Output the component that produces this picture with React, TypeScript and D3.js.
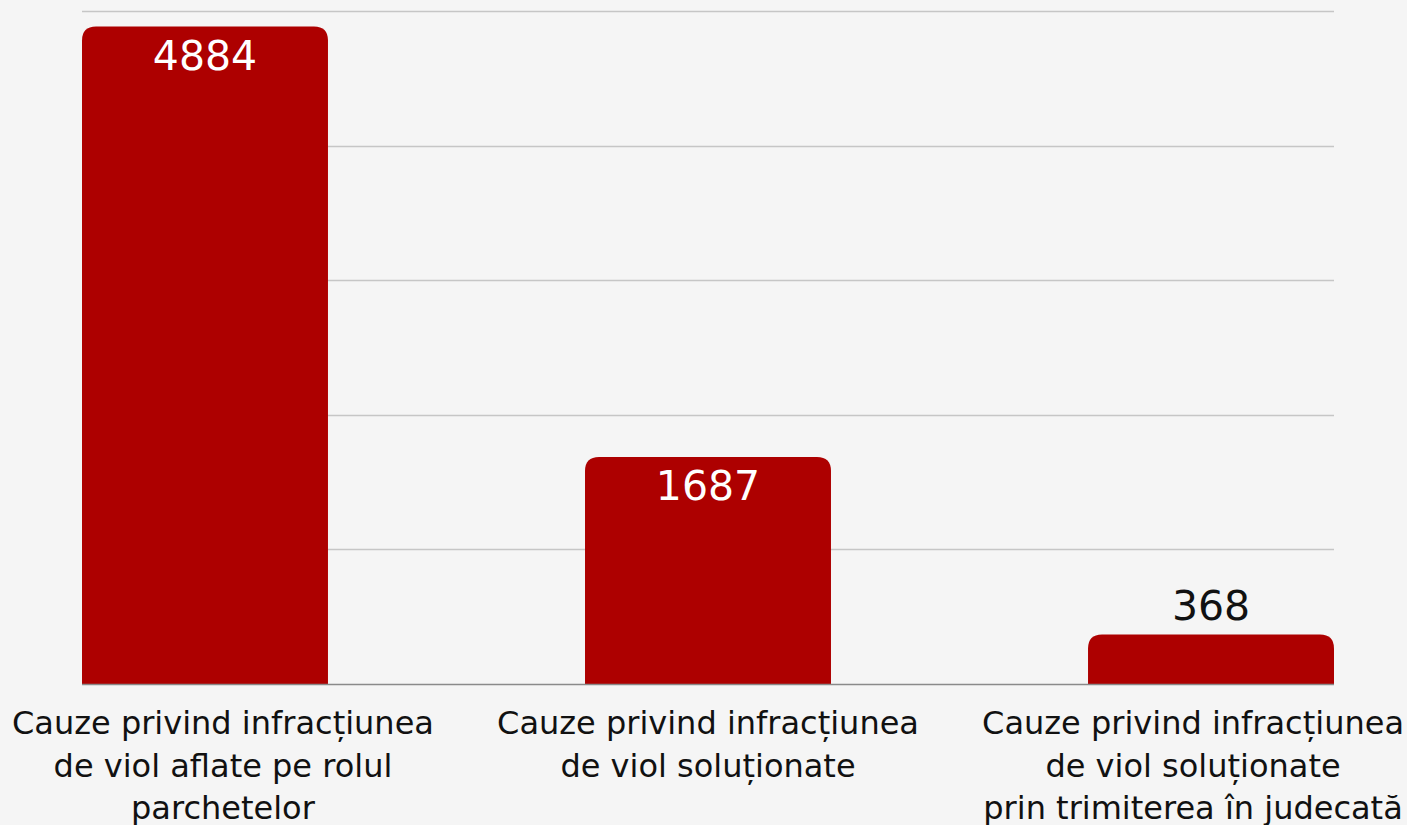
import * as d3 from "d3";
import React, { useEffect, useRef } from "react";

const categories: string[][] = [
  ["Cauze privind infracțiunea", "de viol aflate pe rolul", "parchetelor"],
  ["Cauze privind infracțiunea", "de viol soluționate"],
  ["Cauze privind infracțiunea", "de viol soluționate", "prin trimiterea în judecată"],
];
const values = [4884, 1687, 368];
const yTicks = [1000, 2000, 3000, 4000, 5000];

const W = 1407;
const H = 825;
const FONT = "'DejaVu Sans', sans-serif";

const App: React.FC = () => {
  const svgRef = useRef<SVGSVGElement>(null);

  useEffect(() => {
    if (!svgRef.current) return;
    const svg = d3.select(svgRef.current);
    svg.selectAll("*").remove();

    const left = 82;
    const right = 1334;
    const top = 11;
    const bottom = 684;

    const keys = categories.map((_, i) => String(i));
    const x = d3.scaleBand().domain(keys).range([left, right]).paddingInner(0.511).paddingOuter(0);
    const y = d3.scaleLinear().domain([0, 5000]).range([bottom, top]);

    svg.append("rect").attr("width", W).attr("height", H).attr("fill", "#f5f5f5");

    // gridlines
    svg
      .append("g")
      .selectAll("line")
      .data(yTicks)
      .join("line")
      .attr("x1", left)
      .attr("x2", right)
      .attr("y1", (d) => Math.round(y(d)) + 0.5)
      .attr("y2", (d) => Math.round(y(d)) + 0.5)
      .attr("stroke", "#c6c6c6")
      .attr("stroke-width", 1.3);

    // bars with rounded top corners
    const r = 14;
    const barPath = (x0: number, w: number, yTop: number, yBot: number) => {
      const rr = Math.min(r, (yBot - yTop) / 2);
      return `M${x0},${yBot}V${yTop + rr}Q${x0},${yTop} ${x0 + rr},${yTop}H${x0 + w - rr}Q${x0 + w},${yTop} ${x0 + w},${yTop + rr}V${yBot}Z`;
    };
    svg
      .append("g")
      .selectAll("path")
      .data(values)
      .join("path")
      .attr("d", (d, i) => barPath(x(String(i))!, x.bandwidth(), y(d), y(0)))
      .attr("fill", "#ad0000");

    // baseline
    svg
      .append("line")
      .attr("x1", left)
      .attr("x2", right)
      .attr("y1", bottom + 0.5)
      .attr("y2", bottom + 0.5)
      .attr("stroke", "#8a8a8a")
      .attr("stroke-width", 1.3);

    // value labels
    svg
      .append("g")
      .selectAll("text")
      .data(values)
      .join("text")
      .attr("x", (d, i) => x(String(i))! + x.bandwidth() / 2)
      .attr("y", (d) => (y(0) - y(d) > 100 ? y(d) + 43 : y(d) - 14))
      .attr("fill", (d) => (y(0) - y(d) > 100 ? "#ffffff" : "#111111"))
      .attr("text-anchor", "middle")
      .style("font-family", FONT)
      .style("font-size", "41px")
      .text((d) => d);

    // category labels
    categories.forEach((lines, i) => {
      const cx = x(String(i))! + x.bandwidth() / 2;
      const g = svg.append("g");
      const t = g
        .selectAll("text")
        .data(lines)
        .join("text")
        .attr("x", cx)
        .attr("y", (_, j) => 734 + j * 42.5)
        .attr("text-anchor", "middle")
        .attr("fill", "#111111")
        .style("font-family", FONT)
        .style("font-size", "32px")
        .text((d) => d);
      let maxW = 0;
      t.each(function () {
        maxW = Math.max(maxW, (this as SVGTextElement).getComputedTextLength());
      });
      let shift = 0;
      if (cx - maxW / 2 < 12) shift = 12 - (cx - maxW / 2);
      if (cx + maxW / 2 > W - 3) shift = W - 3 - (cx + maxW / 2);
      g.attr("transform", `translate(${shift},0)`);
    });
  }, []);

  return (
    <svg
      ref={svgRef}
      width={W}
      height={H}
      style={{ position: "fixed", left: 0, top: 0, display: "block" }}
    />
  );
};

export default App;
